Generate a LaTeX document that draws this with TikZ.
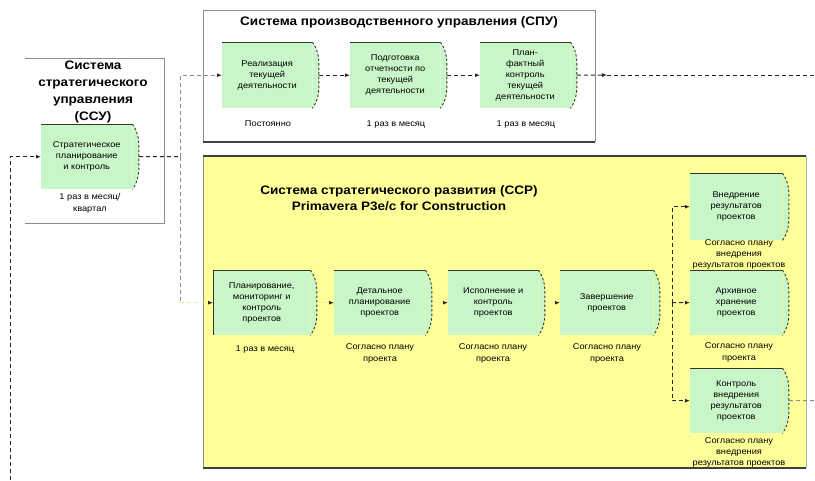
\documentclass[tikz,border=0pt]{standalone}
\usepackage{fontspec}
\setmainfont{Liberation Sans}
\newfontfamily\widesans{Liberation Sans}[FakeStretch=1.1]
\usetikzlibrary{arrows.meta,calc}
\definecolor{fngreen}{RGB}{200,246,200}
\definecolor{ssryellow}{RGB}{255,255,153}
\definecolor{edgedark}{RGB}{55,55,40}
\definecolor{framegray}{RGB}{140,140,140}
\definecolor{hiddenline}{RGB}{238,238,150}
\tikzset{
  x=1pt, y=1pt,
  fnbody/.style={rectangle, fill=fngreen, inner sep=0pt, anchor=north west, align=center,
    font=\widesans\fontsize{8.4}{11}\selectfont},
  fnlabel/.style={anchor=north, align=center, inner sep=0pt, font=\widesans\fontsize{8.4}{12}\selectfont},
  ttl/.style={align=center, inner sep=0pt, font=\widesans\fontsize{12.3}{17}\selectfont\bfseries},
  tip/.style={-{Latex[length=5pt,width=4pt,color=black!85]}},
  conn/.style={dash pattern=on 4pt off 3pt, line width=1pt, draw=black!85},
  conngray/.style={dash pattern=on 4pt off 3pt, line width=1pt, draw=black!45},
  connhidden/.style={dash pattern=on 4pt off 3pt, line width=1pt, draw=hiddenline},
  frm/.style={draw=framegray, line width=1pt},
  frmdark/.style={draw=black!75, line width=1.6pt}
}
\newcommand\fnbox[6]{%
  \node[fnbody, minimum width=#4pt, minimum height=#5pt] (#1) at (#2,-#3) {#6};
  \coordinate (#1-tip) at ($(#1.east)+(6.5,0)$);
  \fill[fngreen] (#1.north east) to[out=-55,in=90] (#1-tip) to[out=-90,in=55] (#1.south east) -- cycle;
  \draw[edgedark, line width=0.9pt, dash pattern=on 2.5pt off 2pt] (#1.north east) to[out=-55,in=90] (#1-tip) to[out=-90,in=55] (#1.south east);
  \draw[edgedark, line width=1pt] (#1.north west) -- (#1.north east);
}
\begin{document}
\begin{tikzpicture}
\useasboundingbox (0,0) rectangle (815,-480);
\fill[white] (0,0) rectangle (815,-480);

% frames
\draw[frm] (25,-58) -- (164,-58) -- (164,-223) -- (25,-223);
\draw[frm] (203,-142) -- (203,-10) -- (595,-10) -- (595,-142);
\draw[frmdark] (203,-142) -- (595,-142);
\fill[ssryellow] (203,-156) rectangle (806,-468);
\draw[frm] (203,-156) -- (203,-468);
\draw[draw=black!30, line width=0.6pt] (806,-156) -- (806,-468);
\draw[frmdark] (203,-156) -- (806,-156);
\draw[frmdark] (203,-468) -- (806,-468);

% titles
\node[ttl] (ssu-t) at (93,-92) {Система\\стратегического\\управления\\(ССУ)};
\node[ttl] (spu-t) at (399,-22) {Система производственного управления (СПУ)};
\node[ttl, font=\widesans\fontsize{12.3}{16}\selectfont\bfseries] (ssr-t) at (399,-198) {Система стратегического развития (ССР)\\Primavera P3e/c for Construction};

% function boxes
\fnbox{ssu}{41}{124}{91}{65}{Стратегическое\\планирование\\и контроль}
\fnbox{spu1}{222}{42}{90}{66}{Реализация\\текущей\\деятельности}
\fnbox{spu2}{350}{42}{90}{66}{Подготовка\\отчетности по\\текущей\\деятельности}
\fnbox{spu3}{480}{42}{90}{66}{План-\\фактный\\контроль\\текущей\\деятельности}
\fnbox{ssr1}{213}{270}{97}{65}{Планирование,\\мониторинг и\\контроль\\проектов}
\draw[edgedark, line width=1pt] (ssr1.north west) -- (ssr1.south west);
\fnbox{ssr2}{334}{270}{91}{65}{Детальное\\планирование\\проектов}
\fnbox{ssr3}{448}{270}{90}{65}{Исполнение и\\контроль\\проектов}
\fnbox{ssr4}{560}{270}{93}{65}{Завершение\\проектов}
\fnbox{ssr5}{690}{173}{92}{67}{Внедрение\\результатов\\проектов}
\fnbox{ssr6}{690}{270}{92}{65}{Архивное\\хранение\\проектов}
\fnbox{ssr7}{690}{368}{92}{65}{Контроль\\внедрения\\результатов\\проектов}

% labels under boxes
\node[fnlabel] (ssu-l) at (90,-193) {1 раз в месяц/\\квартал};
\node[fnlabel] (spu1-l) at (268,-121) {Постоянно};
\node[fnlabel] (spu2-l) at (396,-121) {1 раз в месяц};
\node[fnlabel] (spu3-l) at (526,-121) {1 раз в месяц};
\node[fnlabel] (ssr1-l) at (265,-346) {1 раз в месяц};
\node[fnlabel] (ssr2-l) at (380,-343) {Согласно плану\\проекта};
\node[fnlabel] (ssr3-l) at (493,-343) {Согласно плану\\проекта};
\node[fnlabel] (ssr4-l) at (607,-343) {Согласно плану\\проекта};
\node[fnlabel, font=\widesans\fontsize{8.4}{11}\selectfont] (ssr5-l) at (739,-239) {Согласно плану\\внедрения\\результатов проектов};
\node[fnlabel] (ssr6-l) at (739,-342) {Согласно плану\\проекта};
\node[fnlabel, font=\widesans\fontsize{8.4}{11}\selectfont] (ssr7-l) at (739,-437) {Согласно плану\\внедрения\\результатов проектов};

% connectors
\coordinate (loopbot) at (10,-480);
\draw[conn, tip] (loopbot) |- (ssu.west);
\coordinate (j1) at (180,-156.5);
\draw[conn] (ssu-tip) -- (j1);
\draw[conngray, tip] (j1) |- (spu1.west);
\draw[conngray] (j1) -- (j1 |- ssr1.west);
\draw[connhidden, tip] (j1 |- ssr1.west) -- (ssr1.west);

\draw[conn, tip] (spu1-tip) -- (spu2.west);
\draw[conn, tip] (spu2-tip) -- (spu3.west);
\coordinate (o1) at (607,-75);
\coordinate (o1e) at (815,-75);
\draw[conn, tip] (spu3-tip) -- (o1);
\draw[conn] (o1) -- (o1e);

\draw[connhidden, tip] (ssr1-tip) -- (ssr2.west);
\draw[connhidden, tip] (ssr2-tip) -- (ssr3.west);
\draw[connhidden, tip] (ssr3-tip) -- (ssr4.west);
\coordinate (j2) at (672,-302.5);
\draw[connhidden] (ssr4-tip) -- (j2);
\draw[conn, tip] (j2) |- (ssr5.west);
\draw[conn, tip] (j2) -- (ssr6.west);
\draw[conn, tip] (j2) |- (ssr7.west);
\coordinate (o2) at (815,-400.5);
\draw[conngray] (ssr7-tip) -- (o2);
\end{tikzpicture}
\end{document}
